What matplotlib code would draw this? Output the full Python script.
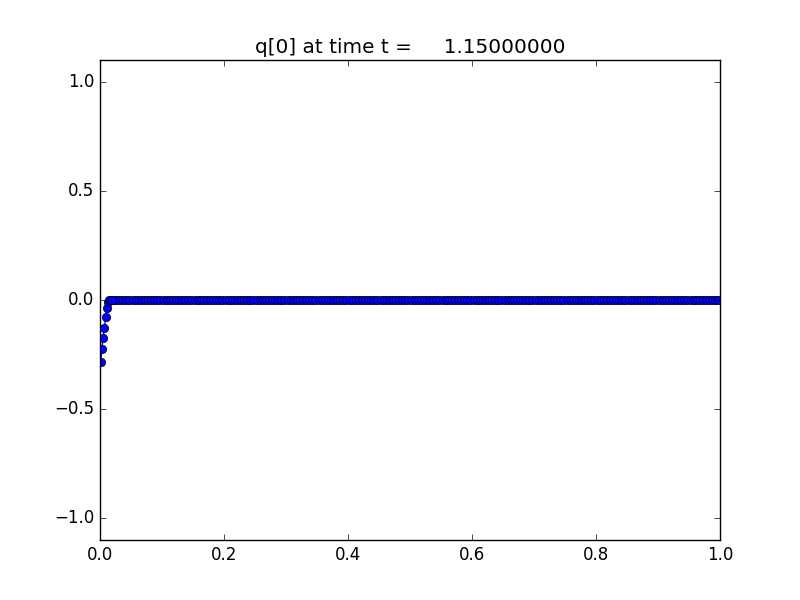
import numpy as np
import matplotlib
matplotlib.use("Agg")
import matplotlib.pyplot as plt

plt.style.use("classic")

# fine patch near the left boundary
fine_x = [0.001, 0.003, 0.005, 0.007, 0.009, 0.011, 0.013, 0.015, 0.017, 0.019]
fine_q = [-0.284, -0.225, -0.174, -0.130, -0.080, -0.035, -0.010, -0.002, 0.0, 0.0]

# coarse grid, 200 cells on [0, 1]
n_coarse = 200
coarse_x = (np.arange(n_coarse) + 0.5) / n_coarse
coarse_q = np.zeros(n_coarse)
keep = coarse_x > 0.02

title_text = "q[0] at time t =     1.15000000"

fig = plt.figure(figsize=(8, 6), dpi=100)
ax = fig.add_subplot(111)

ax.plot(coarse_x[keep], coarse_q[keep], "bo-", markersize=6)
ax.plot(fine_x, fine_q, "bo-", markersize=6)

ax.set_xlim(0, 1)
ax.set_ylim(-1.1, 1.1)
ax.set_xticks([0.0, 0.2, 0.4, 0.6, 0.8, 1.0])
ax.set_yticks([-1.0, -0.5, 0.0, 0.5, 1.0])
ax.set_title(title_text)

fig.savefig("out.png", dpi=100)
